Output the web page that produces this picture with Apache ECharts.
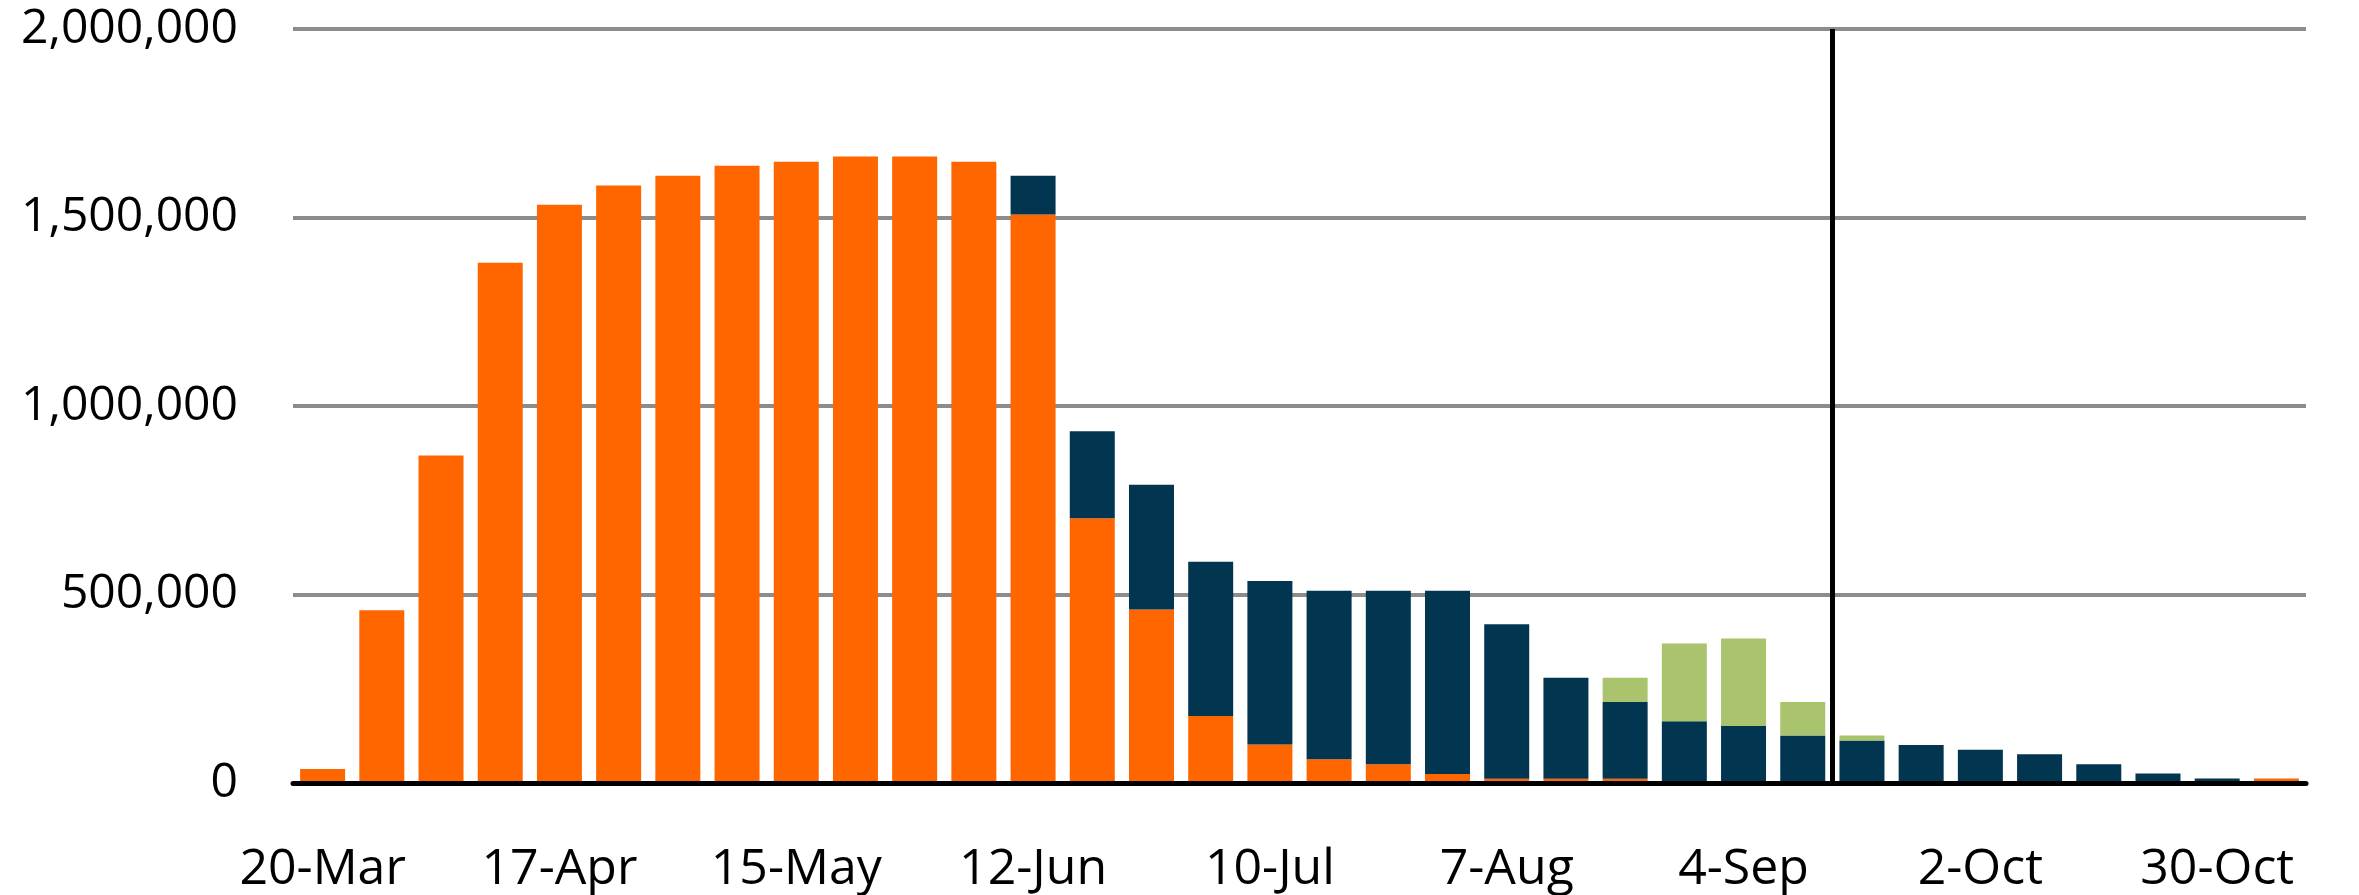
<!DOCTYPE html>
<html>
<head>
<meta charset="utf-8">
<title>Weekly bars</title>
<script src="https://cdn.jsdelivr.net/npm/echarts@6/dist/echarts.min.js"></script>
<style>
  html, body { margin: 0; padding: 0; background: #fff; }
  .chart { width: 2359px; height: 895px; }
</style>
</head>
<body>
<div class="chart" id="chart"></div>
<script>
// weekly dates (week ending)
const weeks = ['20-Mar', '27-Mar', '3-Apr', '10-Apr', '17-Apr', '24-Apr', '1-May', '8-May',
  '15-May', '22-May', '29-May', '5-Jun', '12-Jun', '19-Jun', '26-Jun', '3-Jul', '10-Jul',
  '17-Jul', '24-Jul', '31-Jul', '7-Aug', '14-Aug', '21-Aug', '28-Aug', '4-Sep', '11-Sep',
  '18-Sep', '25-Sep', '2-Oct', '9-Oct', '16-Oct', '23-Oct', '30-Oct', '6-Nov']

// orange part
const orangeValues = [37000, 458000, 869000, 1380000, 1534000, 1585000, 1611000, 1637000,
  1648000, 1662000, 1662000, 1648000, 1508000, 702000, 460000, 178000, 102000,
  63000, 50000, 24000, 11000, 11000, 11000, 0, 0, 0,
  0, 0, 0, 0, 0, 0, 0, 12000]

// dark blue part
const navyValues = [0, 0, 0, 0, 0, 0, 0, 0,
  0, 0, 0, 0, 103000, 231000, 331000, 409000, 434000,
  447000, 460000, 486000, 410000, 268000, 204000, 164000, 151000, 126000,
  113000, 101000, 88000, 76000, 50000, 25000, 12000, 0]

// light green part
const greenValues = [0, 0, 0, 0, 0, 0, 0, 0,
  0, 0, 0, 0, 0, 0, 0, 0, 0,
  0, 0, 0, 0, 0, 64000, 206000, 232000, 89000,
  13000, 0, 0, 0, 0, 0, 0, 0]

const yTicks = [0, 500000, 1000000, 1500000, 2000000]

// vertical marker sits on the boundary before '18-Sep'
const markerBefore = weeks.indexOf('18-Sep')

const chart = echarts.init(document.getElementById('chart'))

function fmt(v) {
  return String(v).replace(/\B(?=(\d{3})+(?!\d))/g, ',')
}

const barStyle = { barWidth: '76%', stack: 'total', silent: true }

const option = {
  animation: false,
  grid: { left: 293, right: 53, top: 29, bottom: 109, containLabel: false },
  xAxis: [
    {
      type: 'category',
      data: weeks,
      axisLine: { lineStyle: { color: '#000', width: 5 } },
      axisTick: { interval: 3, length: 15, lineStyle: { color: '#000', width: 4 } },
      axisLabel: {
        interval: 3,
        margin: 62,
        color: '#000',
        fontSize: 50,
        fontFamily: 'Open Sans'
      },
      z: 5
    },
    {
      // hidden helper axis, only used to put the marker line between two weeks
      type: 'value',
      min: 0,
      max: weeks.length,
      show: false
    }
  ],
  yAxis: {
    type: 'value',
    min: yTicks[0],
    max: yTicks[yTicks.length - 1],
    interval: yTicks[1] - yTicks[0],
    axisLine: { show: false },
    axisTick: { show: false },
    splitLine: { lineStyle: { color: '#8c8c8c', width: 4 } },
    axisLabel: {
      margin: 55,
      color: '#000',
      fontSize: 48,
      fontFamily: 'Open Sans',
      formatter: fmt
    }
  },
  series: [
    Object.assign({ name: 'orange', type: 'bar', data: orangeValues, itemStyle: { color: '#FF6600' } }, barStyle),
    Object.assign({ name: 'navy', type: 'bar', data: navyValues, itemStyle: { color: '#02354F' } }, barStyle),
    Object.assign({ name: 'green', type: 'bar', data: greenValues, itemStyle: { color: '#AAC46D' } }, barStyle),
    {
      name: 'marker',
      type: 'line',
      xAxisIndex: 1,
      data: [],
      silent: true,
      markLine: {
        silent: true,
        symbol: 'none',
        label: { show: false },
        lineStyle: { color: '#000', width: 5, type: 'solid' },
        data: [{ xAxis: markerBefore }]
      }
    }
  ]
}

chart.setOption(option)
</script>
</body>
</html>
